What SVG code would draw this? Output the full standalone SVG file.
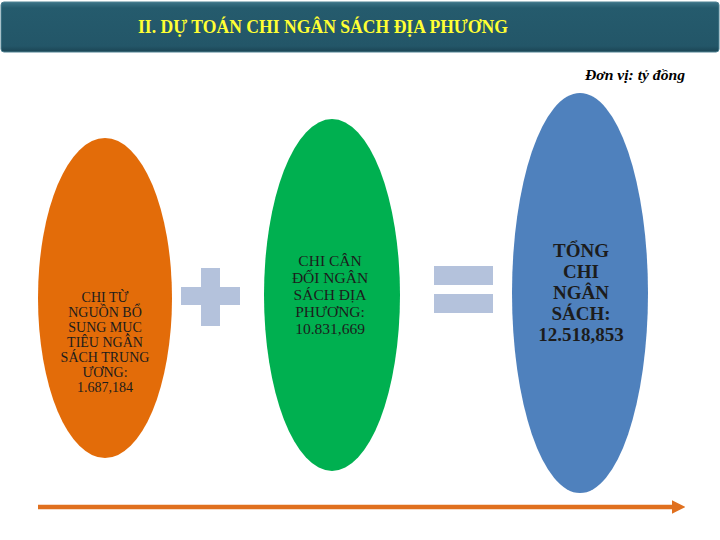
<svg xmlns="http://www.w3.org/2000/svg" width="720" height="540" viewBox="0 0 720 540">
<defs>
<linearGradient id="hdr" x1="0" y1="0" x2="0" y2="1">
<stop offset="0" stop-color="#3d7487"/>
<stop offset="0.12" stop-color="#255b6d"/>
<stop offset="0.88" stop-color="#235668"/>
<stop offset="1" stop-color="#1b4453"/>
</linearGradient>
<marker id="ah" viewBox="0 0 10 10" refX="6" refY="5" markerWidth="3" markerHeight="3.4" orient="auto" markerUnits="strokeWidth">
<path d="M0,0 L10,5 L0,10 Z" fill="#e0701f"/>
</marker>
<style>
text{font-family:"Liberation Serif","Times New Roman",serif}
.t{fill:#1c1c1c;text-anchor:middle}
.op{fill:#b4c2dc}
</style>
</defs>
<rect width="720" height="540" fill="#ffffff"/>
<g id="header">
<rect x="1" y="2" width="718" height="50" rx="3" fill="url(#hdr)" stroke="#4e8293" stroke-width="1"/>
<text x="138" y="33" font-family="Liberation Serif, serif" font-size="18" font-weight="bold" fill="#ffff33" textLength="370" lengthAdjust="spacingAndGlyphs">II. DỰ TOÁN CHI NGÂN SÁCH ĐỊA  PHƯƠNG</text>
</g>
<g id="unit">
<text x="585" y="80" font-family="Liberation Serif, serif" font-size="14" font-weight="bold" font-style="italic" fill="#000" textLength="100" lengthAdjust="spacingAndGlyphs">Đơn vị: tỷ đồng</text>
</g>
<g id="node-local-supplement">
<ellipse cx="105" cy="298" rx="67" ry="160" fill="#e36c09"/>
<text class="t" font-family="Liberation Serif, serif" font-size="14"><tspan x="105" y="302">CHI TỪ</tspan><tspan x="105" y="317">NGUỒN BỔ</tspan><tspan x="105" y="332">SUNG MỤC</tspan><tspan x="105" y="347">TIÊU NGÂN</tspan><tspan x="105" y="362">SÁCH TRUNG</tspan><tspan x="105" y="377">ƯƠNG:</tspan><tspan x="105" y="392">1.687,184</tspan></text>
</g>
<g id="op-plus">
<rect class="op" x="181" y="287" width="59" height="18"/>
<rect class="op" x="201" y="268" width="19" height="58"/>
</g>
<g id="node-balance">
<ellipse cx="332" cy="295" rx="68" ry="176" fill="#00b050"/>
<text class="t" font-family="Liberation Serif, serif" font-size="15.5"><tspan x="330" y="266">CHI CÂN</tspan><tspan x="330" y="283">ĐỐI NGÂN</tspan><tspan x="330" y="300">SÁCH ĐỊA</tspan><tspan x="330" y="317">PHƯƠNG:</tspan><tspan x="330" y="334">10.831,669</tspan></text>
</g>
<g id="op-equals">
<rect class="op" x="434" y="266" width="59" height="19"/>
<rect class="op" x="434" y="294" width="59" height="19"/>
</g>
<g id="node-total">
<ellipse cx="580" cy="293" rx="68" ry="200" fill="#4f81bd"/>
<text class="t" font-family="Liberation Serif, serif" font-size="19" font-weight="bold"><tspan x="581" y="257">TỔNG</tspan><tspan x="581" y="278">CHI</tspan><tspan x="581" y="299">NGÂN</tspan><tspan x="581" y="320">SÁCH:</tspan><tspan x="581" y="341">12.518,853</tspan></text>
</g>
<g id="connectors">
<line x1="38" y1="507" x2="680" y2="507" stroke="#e0701f" stroke-width="4.5" marker-end="url(#ah)"/>
</g>
</svg>
